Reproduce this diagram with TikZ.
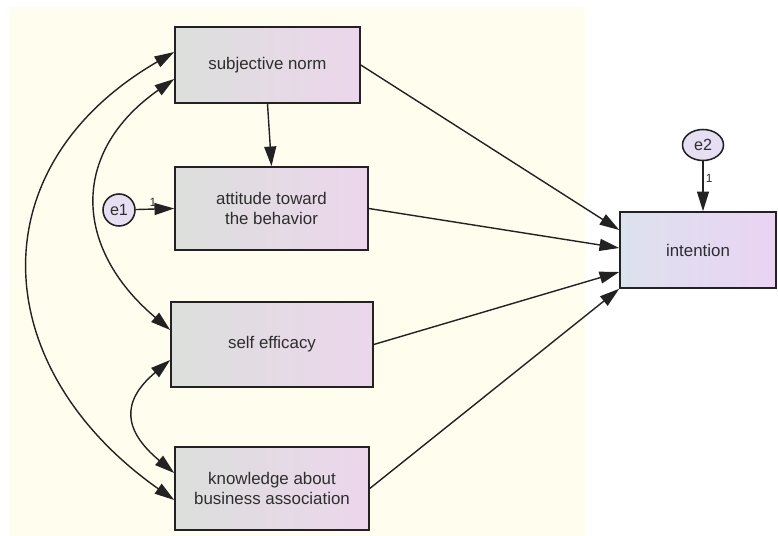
\documentclass[tikz,border=0pt]{standalone}
\usepackage{fontspec}
\setmainfont{Liberation Sans}
\usetikzlibrary{arrows.meta, calc, positioning, shapes.geometric}
\definecolor{paperYellow}{HTML}{FFFDEE}
\definecolor{boxGrey}{HTML}{DCDFDC}
\definecolor{boxPink}{HTML}{ECD6EC}
\definecolor{outBlue}{HTML}{DCE2EE}
\definecolor{outPink}{HTML}{EAD3F3}
\definecolor{errLilac}{HTML}{E6DEF2}
\definecolor{edgeDark}{HTML}{222222}
\definecolor{textDark}{HTML}{2E2E2E}
\tikzset{
    obsvar/.style={draw=edgeDark, line width=1.1pt, left color=boxGrey, right color=boxPink,
        text=textDark, font=\fontsize{12}{14}\selectfont, align=center, inner sep=2pt},
    errvar/.style={draw=edgeDark, line width=1.1pt, fill=errLilac, ellipse, text=textDark,
        font=\fontsize{11.5}{13}\selectfont, inner sep=0pt},
    regpath/.style={draw=edgeDark, line width=1pt, -{Triangle[length=14pt, width=8.5pt]}},
    covpath/.style={draw=edgeDark, line width=1pt,
        {Triangle[length=14pt, width=8.5pt]}-{Triangle[length=14pt, width=8.5pt]}},
    weight/.style={font=\fontsize{8.5}{9}\selectfont, text=textDark, inner sep=1.5pt}
}

\begin{document}
\begin{tikzpicture}[x=0.025cm, y=-0.025cm]
        % Canvas
        \useasboundingbox (0,0) rectangle (778,536);
        \fill[white] (0,0) rectangle (778,536);
        \fill[paperYellow] (9,7) rectangle (585,536);

        % Observed variables
        \node[obsvar, minimum width=4.625cm, minimum height=1.9cm] (subj) at (267.5,65) {subjective norm};
        \node[obsvar, minimum width=4.825cm, minimum height=2.075cm] (att) at (271.5,208.5) {attitude toward\\ the behavior};
        \node[obsvar, minimum width=5.05cm, minimum height=2.125cm] (self) at (272,344.5) {self efficacy};
        \node[obsvar, minimum width=4.85cm, minimum height=2.075cm] (know) at (272,488.5) {knowledge about\\business association};
        \node[obsvar, left color=outBlue, right color=outPink, minimum width=3.9cm, minimum height=1.9cm] (int) at (698,250) {intention};

        % Error terms
        \node[errvar, minimum width=0.8cm, minimum height=0.8cm] (e1) at (119,210) {e1};
        \node[errvar, minimum width=1.025cm, minimum height=0.775cm] (e2) at (703,145) {e2};

        % Paths
        \draw[regpath] (subj.south) -- (att.north);
        \draw[regpath] (e1) -- (att.west) node[weight, above, pos=0.45] {1};
        \draw[regpath] (e2) -- (e2 |- int.north) node[weight, right, pos=0.35] {1};
        \draw[regpath] (subj.east) -- ($(int.west)+(0,-20)$);
        \draw[regpath] (att.east) -- ($(int.west)+(0,-2)$);
        \draw[regpath] (self.east) -- ($(int.west)+(0,22)$);
        \draw[regpath] (know.east) -- (int.south west);

        % Covariances
        \draw[covpath] ($(subj.west)+(0,-13)$) .. controls (-24,167) and (-13,368) .. ($(know.west)+(0,11.5)$);
        \draw[covpath] ($(subj.west)+(0,14)$) .. controls (70,152) and (73,248) .. ($(self.west)+(0,-14.5)$);
        \draw[covpath] ($(self.west)+(0,15.5)$) .. controls (120,402) and (124,431) .. ($(know.west)+(0,-15.5)$);
\end{tikzpicture}
\end{document}
